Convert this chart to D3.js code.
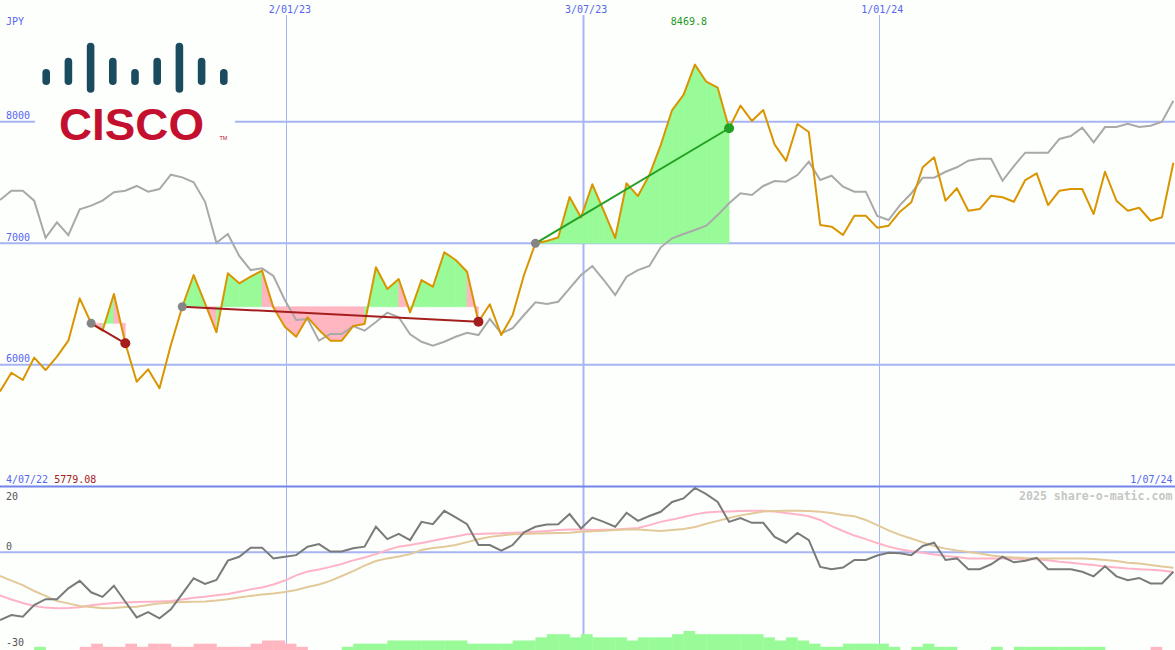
<!DOCTYPE html>
<html><head><meta charset="utf-8">
<script src="https://cdn.jsdelivr.net/npm/d3@7"></script>
<style>html,body{margin:0;padding:0;background:#fdfffd;overflow:hidden}</style>
</head><body><svg id="c" width="1175" height="650"></svg>
<script>
// ---- data (weekly) ----
const startDate = new Date(2022, 6, 10);
const endDate = new Date(2024, 6, 1);
const price = [5779.08,5934,5874,6058,5956,6066,6198,6546,6341,6280,
 6582,6176,5860,5962,5806,6162,6477,6738,6505,6267,
 6752,6670,6724,6774,6470,6313,6230,6390,6286,6198,
 6198,6318,6335,6802,6623,6705,6431,6697,6642,6925,
 6862,6765,6354,6497,6244,6409,6738,6999,7018,7047,
 7380,7211,7485,7265,7043,7493,7388,7561,7808,8096,
 8220,8469.8,8329,8280,7946,8132,8006,8096,7811,7677,
 7981,7915,7150,7136,7067,7226,7226,7128,7144,7259,
 7337,7625,7707,7350,7452,7267,7281,7391,7378,7341,
 7520,7575,7314,7432,7446,7446,7240,7588,7350,7267,
 7292,7185,7213,7662];
const compare = [7355,7432,7432,7350,7045,7172,7067,7279,7309,7350,
 7419,7432,7471,7424,7446,7564,7542,7501,7341,7004,
 7076,6895,6779,6793,6730,6533,6368,6376,6198,6253,
 6253,6318,6280,6351,6428,6390,6250,6189,6156,6189,
 6230,6263,6244,6376,6258,6300,6409,6514,6500,6518,
 6629,6738,6812,6697,6574,6724,6779,6812,6966,7040,
 7076,7109,7144,7232,7328,7411,7397,7471,7512,7506,
 7561,7671,7520,7555,7465,7424,7424,7224,7191,7314,
 7411,7539,7539,7588,7625,7679,7695,7695,7514,7635,
 7745,7745,7745,7858,7882,7951,7830,7956,7956,7983,
 7956,7967,8000,8173];
const osc = [-20.8,-19.3,-19.8,-16.2,-14.4,-14.4,-11.1,-8.8,-12.3,-13.7,
 -10.3,-15.2,-20.0,-18.4,-20.3,-17.5,-12.8,-8.0,-9.7,-8.5,
 -2.6,-1.4,1.4,1.4,-1.9,-1.4,-0.9,1.7,2.5,0.2,
 0.2,1.2,1.7,7.8,4.0,5.6,3.7,9.3,8.6,12.7,
 10.7,8.6,2.2,2.2,0.5,2.2,6.1,7.8,8.5,8.6,
 11.7,7.3,10.6,9.3,7.8,12.1,9.6,11.1,12.4,15.4,
 16.5,19.7,17.8,15.4,9.3,10.5,9.0,9.0,4.7,2.9,
 5.9,3.7,-4.5,-5.2,-4.7,-2.4,-2.4,-1.0,-0.2,-0.3,
 -0.9,1.9,2.9,-2.4,-1.9,-5.2,-5.2,-3.7,-1.4,-3.1,
 -2.6,-1.7,-5.2,-5.2,-5.2,-6.0,-7.4,-4.3,-7.4,-8.6,
 -7.9,-9.6,-9.6,-6.0];
const oscMaShort = [-13.3,-14.5,-15.6,-16.5,-17.0,-17.2,-17.1,-16.9,-16.3,-15.9,
 -15.6,-15.4,-15.3,-15.2,-15.1,-15.0,-14.5,-14.0,-13.7,-13.2,
 -12.8,-12.1,-11.4,-10.8,-9.9,-8.7,-7.1,-5.9,-5.3,-4.5,
 -3.6,-2.5,-1.6,-0.6,0.7,1.7,2.2,2.8,3.5,4.2,
 4.8,5.5,5.6,5.7,5.8,6.0,6.1,6.3,6.5,6.8,
 7.0,7.0,6.8,6.9,7.0,7.2,7.4,8.3,9.3,10.0,
 10.8,11.6,12.2,12.4,12.5,12.6,12.7,12.7,12.5,12.0,
 11.6,11.0,9.9,8.0,6.5,5.1,4.0,2.8,1.7,0.9,
 0.3,-0.2,-0.7,-1.2,-1.5,-1.9,-1.9,-1.9,-1.9,-2.0,
 -2.1,-2.2,-2.5,-2.9,-3.2,-3.6,-3.9,-4.4,-4.7,-5.0,
 -5.2,-5.4,-5.6,-6.1];
const oscMaLong = [-7.3,-8.7,-10.1,-11.9,-13.4,-15.0,-15.7,-16.5,-16.8,-17.2,
 -17.1,-16.8,-16.7,-16.2,-15.7,-15.4,-15.3,-15.2,-15.1,-14.8,
 -14.4,-13.9,-13.4,-13.0,-12.7,-12.2,-11.6,-10.7,-9.9,-8.8,
 -7.3,-5.8,-4.1,-2.7,-1.9,-1.3,-0.6,0.7,1.3,1.7,
 2.2,3.1,4.0,4.7,5.1,5.5,5.6,5.7,5.8,5.9,
 6.0,6.3,6.4,6.6,6.8,7.0,7.0,6.7,6.5,6.8,
 7.1,7.7,8.7,9.6,10.5,11.3,11.9,12.5,12.6,12.7,
 12.7,12.6,12.4,12.0,11.4,11.0,9.9,8.3,6.7,5.3,
 4.2,3.0,1.9,1.1,0.5,0.1,-0.4,-1.0,-1.4,-1.6,
 -1.8,-1.9,-1.9,-1.9,-1.9,-1.9,-2.1,-2.4,-2.7,-3.2,
 -3.5,-3.9,-4.4,-4.8];
const barLevels = [0,0,0,1,0,0,0,-1,-2,-1,
 -1,-2,-1,-2,-2,-1,-1,-2,-2,-1,
 -1,-1,-2,-3,-3,-2,-1,0,0,0,
 1,2,2,2,3,3,3,3,3,3,
 3,2,2,2,2,3,3,4,5,5,
 4,5,4,4,4,3,4,4,4,5,
 6,5,5,5,5,5,5,4,3,4,
 3,2,1,1,2,2,2,2,1,0,
 1,2,1,1,0,0,0,1,0,1,
 1,1,1,1,1,1,1,0,0,0,
 0,-1,0,0];
const trends = [[8, 11], [16, 42], [47, 64]];
const priceTicks = [6000, 7000, 8000];
const oscTicks = [20, 0, -30];
const dateTicks = ["2023-01-02", "2023-07-03", "2024-01-01"];
const dateTickLabels = ["2/01/23", "3/07/23", "1/01/24"];
const currency = "JPY";
const firstDateLabel = "4/07/22";
const lastDateLabel = "1/07/24";
const credit = "2025 share-o-matic.com";
const logoBars = [1, 2, 3, 2, 1, 2, 3, 2, 1];

// ---- drawing ----
const W = 1175, H = 650;
const svg = d3.select("#c");
const FONT = "'DejaVu Sans Mono', 'Liberation Mono', monospace";
const dates = price.map((_, i) => d3.timeDay.offset(startDate, 7 * i));
const x = d3.scaleTime().domain([startDate, endDate]).range([0, W]);
const y = d3.scaleLinear().domain([5000, 9000]).range([486.2, 0.2]);
const yo = d3.scaleLinear().domain([-30, 20]).range([650, 487]);
const bh = d3.scaleLinear().domain([0, 6]).range([0, 19]);

const GRID = "#a7b5f2", TXT = "#5566ee";
svg.append("rect").attr("width", W).attr("height", H).attr("fill", "#fdfffd");

// horizontal price grid
svg.selectAll(".hg").data(priceTicks).enter().append("line")
  .attr("x1", 0).attr("x2", W).attr("y1", d => y(d)).attr("y2", d => y(d))
  .attr("stroke", GRID).attr("stroke-width", 2);
// vertical date lines
const tickDates = dateTicks.map(d => d3.timeParse("%Y-%m-%d")(d));
svg.selectAll(".vg").data(tickDates).enter().append("line")
  .attr("x1", d => Math.round(x(d)) + 0.5).attr("x2", d => Math.round(x(d)) + 0.5)
  .attr("y1", 15).attr("y2", H)
  .attr("stroke", GRID).attr("stroke-width", (d, i) => i === 1 ? 2 : 1);
// osc zero line
svg.append("line").attr("x1", 0).attr("x2", W).attr("y1", yo(0)).attr("y2", yo(0))
  .attr("stroke", GRID).attr("stroke-width", 2);
// separator
svg.append("line").attr("x1", 0).attr("x2", W).attr("y1", 486.5).attr("y2", 486.5)
  .attr("stroke", "#7584ea").attr("stroke-width", 2);

// bottom bars
const step = x(dates[1]) - x(dates[0]);
svg.selectAll(".bar").data(barLevels.map((v, i) => ({v, i})).filter(d => d.v !== 0))
  .enter().append("rect")
  .attr("x", d => x(dates[d.i])).attr("width", step + 0.3)
  .attr("y", d => H - bh(Math.abs(d.v))).attr("height", d => bh(Math.abs(d.v)))
  .attr("fill", d => d.v > 0 ? "#98fb98" : "#ffb6c1");

// trend fills
trends.forEach(([s, e]) => {
  const base = price[s];
  for (let k = s; k < e; k++) {
    const pts = [[x(dates[k]), y(base)], [x(dates[k]), y(price[k])],
      [x(dates[k + 1]), y(price[k + 1])], [x(dates[k + 1]), y(base)]];
    svg.append("path").attr("d", "M" + pts.map(p => p.join(",")).join("L") + "Z")
      .attr("fill", price[k + 1] >= base ? "#98fb98" : "#ffb6c1")
      .attr("stroke", price[k + 1] >= base ? "#98fb98" : "#ffb6c1").attr("stroke-width", 0.6);
  }
});

const line = (arr, sc) => d3.line().x((d, i) => x(dates[i])).y(d => sc(d))(arr);
svg.append("path").attr("d", line(compare, y)).attr("fill", "none")
  .attr("stroke", "#a9a9a9").attr("stroke-width", 2);
svg.append("path").attr("d", line(price, y)).attr("fill", "none")
  .attr("stroke", "#d99500").attr("stroke-width", 2).attr("stroke-linejoin", "round");

// trend lines and dots
trends.forEach(([s, e]) => {
  const up = price[e] >= price[s];
  const col = up ? "#23a023" : "#a51e1e";
  svg.append("line").attr("x1", x(dates[s])).attr("y1", y(price[s]))
    .attr("x2", x(dates[e])).attr("y2", y(price[e]))
    .attr("stroke", col).attr("stroke-width", 2);
  svg.append("circle").attr("cx", x(dates[s])).attr("cy", y(price[s])).attr("r", 4.5).attr("fill", "#858585");
  svg.append("circle").attr("cx", x(dates[e])).attr("cy", y(price[e])).attr("r", 5).attr("fill", col);
});

// oscillator lines
svg.append("path").attr("d", line(oscMaShort, yo)).attr("fill", "none")
  .attr("stroke", "#ffb3c6").attr("stroke-width", 2);
svg.append("path").attr("d", line(oscMaLong, yo)).attr("fill", "none")
  .attr("stroke", "#e3c99a").attr("stroke-width", 2);
svg.append("path").attr("d", line(osc, yo)).attr("fill", "none")
  .attr("stroke", "#7a7a7a").attr("stroke-width", 2);

// logo
const logo = svg.append("g");
logo.append("rect").attr("x", 35).attr("y", 30).attr("width", 200).attr("height", 118).attr("fill", "#fdfffd");
const barTop = {1: 69, 2: 57.7, 3: 42.7}, barBot = {1: 85, 2: 85, 3: 92.7};
logoBars.forEach((h, i) => {
  const cx = 46.2 + i * 22.2;
  logo.append("line").attr("x1", cx).attr("x2", cx)
    .attr("y1", barTop[h] + 3.8).attr("y2", barBot[h] - 3.8)
    .attr("stroke", "#1b4b5f").attr("stroke-width", 7.6).attr("stroke-linecap", "round");
});
logo.append("text").attr("x", 59).attr("y", 139.5).text("CISCO")
  .attr("font-family", "'Liberation Sans', Arial, sans-serif").attr("font-weight", "bold")
  .attr("font-size", 45).attr("textLength", 145).attr("lengthAdjust", "spacingAndGlyphs")
  .attr("fill", "#c4102f");
logo.append("text").attr("x", 219.5).attr("y", 139.5).text("TM")
  .attr("font-family", "'Liberation Sans', Arial, sans-serif").attr("font-size", 5.5)
  .attr("fill", "#c4102f");

// texts
const T = (tx, ty, s, col, anchor) => svg.append("text").attr("x", tx).attr("y", ty).text(s)
  .attr("font-family", FONT).attr("font-size", 10).attr("fill", col)
  .attr("text-anchor", anchor || "start");
T(6, 25, currency, TXT);
priceTicks.forEach(v => T(6, y(v) - 2.5, String(v), TXT));
tickDates.forEach((d, i) => T(x(d) + 3.5, 13.3, dateTickLabels[i], TXT, "middle"));
const maxI = d3.maxIndex(price);
T(x(dates[maxI]) - 6, 25, String(price[maxI]), "#229922", "middle");
const minI = d3.minIndex(price);
const fl = T(6, 482.7, "", TXT);
fl.append("tspan").text(firstDateLabel + " ");
fl.append("tspan").text(price[minI].toFixed(2)).attr("fill", "#a52020");
T(1172.5, 482.7, lastDateLabel, TXT, "end");
svg.append("text").attr("x", 1172.5).attr("y", 499.8).text(credit)
  .attr("font-family", FONT).attr("font-size", 11.6).attr("font-weight", "bold")
  .attr("fill", "#c6c6c6").attr("text-anchor", "end");
T(6, 499.5, String(oscTicks[0]), "#555");
T(6, yo(0) - 2.5, String(oscTicks[1]), "#555");
T(6, 646, String(oscTicks[2]), "#555");
</script></body></html>
